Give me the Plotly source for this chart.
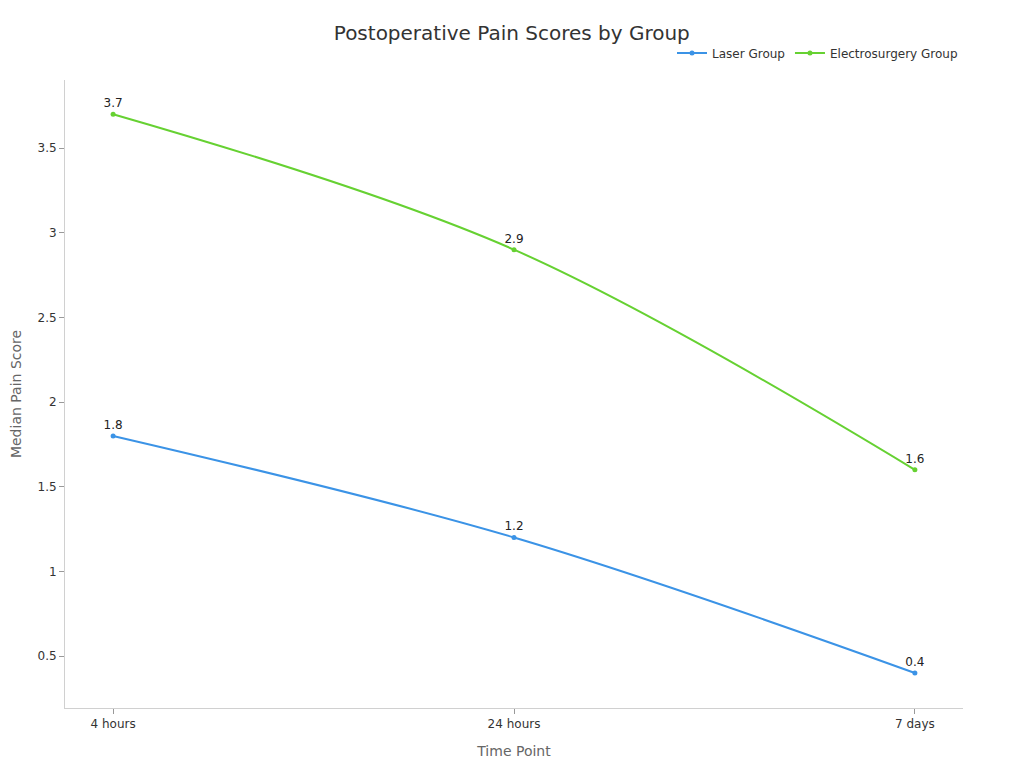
import plotly.graph_objects as go

time_points = ["4 hours", "24 hours", "7 days"]
laser_scores = [1.8, 1.2, 0.4]
electro_scores = [3.7, 2.9, 1.6]
series_names = ["Laser Group", "Electrosurgery Group"]
colors = ["#3b93e6", "#66d132"]

fig = go.Figure()
for name, vals, col in zip(series_names, [laser_scores, electro_scores], colors):
    fig.add_trace(go.Scatter(
        x=time_points, y=vals, name=name, mode="lines+markers+text",
        line=dict(color=col, width=2, shape="spline"),
        marker=dict(color=col, size=5),
        text=[str(v) for v in vals], textposition="top center",
        textfont=dict(size=12, color="#222222"),
    ))

fig.update_layout(
    width=1024, height=768,
    font=dict(family="DejaVu Sans", color="#333333"),
    title=dict(text="Postoperative Pain Scores by Group", x=0.492, xanchor="center",
               y=0.9674, yanchor="middle", font=dict(size=20, color="#333333")),
    plot_bgcolor="white", paper_bgcolor="white",
    margin=dict(l=57, r=69, t=72, b=68),
    legend=dict(orientation="h", x=1, xanchor="right", y=1.043, yanchor="middle",
                font=dict(size=12, color="#333333")),
    xaxis=dict(title=dict(text="Time Point", font=dict(size=14, color="#666666")),
               range=[-0.12, 2.12], showgrid=False, showline=True, linecolor="#d0d0d0",
               ticks="outside", ticklen=5, tickcolor="#999999", automargin=False,
               tickfont=dict(size=12, color="#333333")),
    yaxis=dict(title=dict(text="Median Pain Score", font=dict(size=14, color="#666666"),
                          standoff=15),
               range=[0.193, 3.902], showgrid=False, showline=True, linecolor="#d0d0d0",
               ticks="outside", ticklen=5, tickcolor="#999999", zeroline=False,
               automargin=False,
               tickvals=[0.5, 1, 1.5, 2, 2.5, 3, 3.5],
               tickfont=dict(size=12, color="#333333")),
)

fig.write_html("out.html")
